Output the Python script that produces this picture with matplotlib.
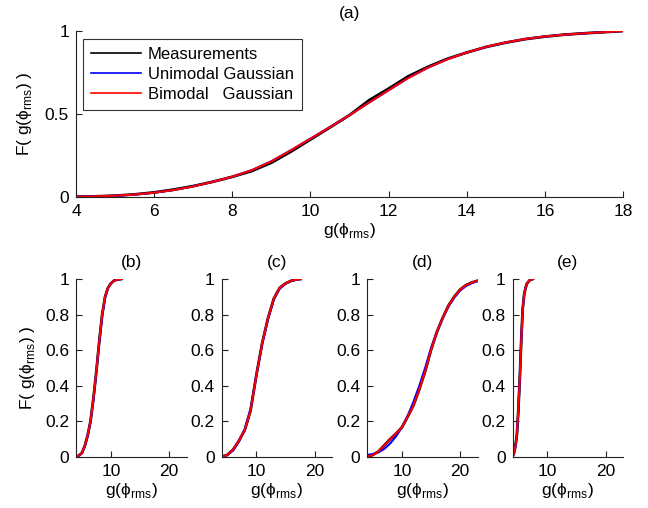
import matplotlib
matplotlib.use("Agg")
import matplotlib.pyplot as plt

plt.rcParams["font.family"] = ["Liberation Sans", "DejaVu Sans"]
plt.rcParams["mathtext.fontset"] = "custom"
plt.rcParams["mathtext.rm"] = "Liberation Sans"
plt.rcParams["font.size"] = 12.5

# ---------------- panel (a): all data ----------------
g_a = [4.0, 4.5, 5.0, 5.5, 6.0, 6.5, 7.0, 7.5, 8.0, 8.5, 9.0, 9.5, 10.0, 10.5,
       11.0, 11.5, 12.0, 12.5, 13.0, 13.5, 14.0, 14.5, 15.0, 15.5, 16.0, 16.5,
       17.0, 17.5, 18.0]
meas_a = [0.0, 0.002, 0.006, 0.014, 0.026, 0.043, 0.064, 0.090, 0.120, 0.155,
          0.205, 0.272, 0.345, 0.418, 0.492, 0.582, 0.652, 0.726, 0.783, 0.832,
          0.870, 0.904, 0.930, 0.951, 0.966, 0.978, 0.986, 0.993, 1.0]
uni_a = [0.0, 0.002, 0.006, 0.013, 0.024, 0.040, 0.063, 0.090, 0.120, 0.160,
         0.214, 0.280, 0.350, 0.420, 0.492, 0.568, 0.642, 0.716, 0.778, 0.829,
         0.870, 0.904, 0.930, 0.952, 0.967, 0.978, 0.986, 0.993, 1.0]
bi_a = [0.0, 0.002, 0.006, 0.013, 0.024, 0.040, 0.062, 0.090, 0.121, 0.160,
        0.213, 0.280, 0.350, 0.420, 0.492, 0.568, 0.643, 0.716, 0.778, 0.829,
        0.870, 0.905, 0.931, 0.952, 0.967, 0.978, 0.986, 0.993, 1.0]

# ---------------- panel (b) ----------------
g_b = [4.2, 5.0, 5.5, 6.0, 6.5, 7.0, 7.5, 8.0, 8.5, 9.0, 9.5, 10.0, 10.5, 11.0, 11.8]
meas_b = [0.0, 0.02, 0.06, 0.12, 0.20, 0.33, 0.48, 0.65, 0.80, 0.90, 0.95, 0.975, 0.99, 0.996, 1.0]
uni_b = [0.0, 0.02, 0.055, 0.115, 0.20, 0.32, 0.48, 0.64, 0.79, 0.895, 0.95, 0.976, 0.99, 0.997, 1.0]
bi_b = [0.0, 0.02, 0.06, 0.12, 0.20, 0.33, 0.48, 0.65, 0.80, 0.90, 0.95, 0.975, 0.99, 0.996, 1.0]

# ---------------- panel (c) ----------------
g_c = [4.0, 5.0, 6.0, 7.0, 8.0, 9.0, 10.0, 11.0, 12.0, 13.0, 14.0, 15.0, 16.0, 17.0, 17.6]
meas_c = [0.0, 0.01, 0.04, 0.09, 0.15, 0.26, 0.46, 0.64, 0.78, 0.89, 0.95, 0.975, 0.99, 0.998, 1.0]
uni_c = [0.0, 0.01, 0.035, 0.085, 0.155, 0.27, 0.46, 0.635, 0.775, 0.885, 0.945, 0.973, 0.99, 0.997, 1.0]
bi_c = [0.0, 0.01, 0.04, 0.09, 0.15, 0.26, 0.46, 0.64, 0.78, 0.89, 0.95, 0.975, 0.99, 0.998, 1.0]

# ---------------- panel (d) ----------------
g_d = [4.0, 5.0, 6.0, 7.0, 8.0, 9.0, 10.0, 11.0, 12.0, 13.0, 14.0, 15.0, 16.0,
       17.0, 18.0, 19.0, 20.0, 21.0, 22.0, 23.0]
meas_d = [0.0, 0.01, 0.03, 0.065, 0.10, 0.13, 0.165, 0.225, 0.29, 0.38, 0.48,
          0.60, 0.70, 0.78, 0.85, 0.90, 0.94, 0.965, 0.98, 0.99]
uni_d = [0.01, 0.015, 0.025, 0.045, 0.075, 0.115, 0.165, 0.23, 0.31, 0.40, 0.50,
         0.61, 0.70, 0.78, 0.845, 0.895, 0.935, 0.96, 0.977, 0.988]
bi_d = [0.0, 0.01, 0.03, 0.065, 0.10, 0.13, 0.165, 0.225, 0.29, 0.38, 0.48,
        0.60, 0.70, 0.78, 0.85, 0.90, 0.94, 0.965, 0.98, 0.99]

# ---------------- panel (e) ----------------
g_e = [4.0, 4.25, 4.5, 4.75, 5.0, 5.25, 5.5, 5.75, 6.0, 6.25, 6.5, 7.0, 7.5]
meas_e = [0.0, 0.02, 0.06, 0.12, 0.26, 0.44, 0.65, 0.83, 0.91, 0.95, 0.975, 0.995, 1.0]
uni_e = [0.0, 0.02, 0.055, 0.12, 0.25, 0.44, 0.655, 0.83, 0.915, 0.955, 0.977, 0.995, 1.0]
bi_e = [0.0, 0.02, 0.06, 0.12, 0.26, 0.44, 0.65, 0.83, 0.91, 0.95, 0.975, 0.995, 1.0]

series_labels = ["Measurements", "Unimodal Gaussian", "Bimodal   Gaussian"]
panel_titles = ["(b)", "(c)", "(d)", "(e)"]
xlabel = "g(\u03d5$_{\\mathregular{rms}}$)"
ylabel = "F( g(\u03d5$_{\\mathregular{rms}}$) )"

FS = 12.5
W, H = 648, 508
fig = plt.figure(figsize=(W / 100, H / 100), dpi=100)


def px_axes(left, top, right, bottom):
    return fig.add_axes([left / W, 1 - bottom / H, (right - left) / W, (bottom - top) / H])


def style(ax):
    for s in ("top", "right"):
        ax.spines[s].set_visible(False)
    for s in ("left", "bottom"):
        ax.spines[s].set_linewidth(0.8)
        ax.spines[s].set_color("#222222")
    ax.tick_params(direction="in", length=4, width=0.8, color="#222222",
                   labelsize=FS, pad=5)


def draw(ax, g, m, u, b):
    ax.plot(g, m, color="black", lw=2.0, label=series_labels[0])
    ax.plot(g, u, color="blue", lw=1.5, label=series_labels[1])
    ax.plot(g, b, color="red", lw=1.5, label=series_labels[2])


# top panel
ax = px_axes(76, 31, 623, 196.7)
draw(ax, g_a, meas_a, uni_a, bi_a)
ax.set_xlim(4, 18)
ax.set_ylim(0, 1)
ax.set_xticks(range(4, 19, 2))
ax.set_yticks([0, 0.5, 1])
ax.set_yticklabels(["0", "0.5", "1"])
style(ax)
ax.set_title("(a)", fontsize=FS, pad=9)
ax.set_xlabel(xlabel, fontsize=FS, labelpad=2)
ax.set_ylabel(ylabel, fontsize=FS, labelpad=8)
leg = ax.legend(loc="upper left", bbox_to_anchor=(7 / 547, 1 - 8 / 165.7), fontsize=12,
                frameon=True, fancybox=False, edgecolor="black", handlelength=3.0,
                handletextpad=0.4, borderpad=0.5, labelspacing=0.28,
                borderaxespad=0)
leg.get_frame().set_linewidth(0.8)
for line in leg.get_lines():
    line.set_linewidth(1.2)

# bottom panels
lefts = [76, 221.5, 367, 512.5]
data = [(g_b, meas_b, uni_b, bi_b), (g_c, meas_c, uni_c, bi_c),
        (g_d, meas_d, uni_d, bi_d), (g_e, meas_e, uni_e, bi_e)]
for i, (l, d) in enumerate(zip(lefts, data)):
    ax = px_axes(l, 279, l + 110.5, 456.7)
    draw(ax, *d)
    ax.set_xlim(4, 23)
    ax.set_ylim(0, 1)
    ax.set_xticks([10, 20])
    ax.set_yticks([0, 0.2, 0.4, 0.6, 0.8, 1.0])
    ax.set_yticklabels(["0", "0.2", "0.4", "0.6", "0.8", "1"])
    style(ax)
    ax.set_title(panel_titles[i], fontsize=FS, pad=9)
    ax.set_xlabel(xlabel, fontsize=FS, labelpad=2)
    if i == 0:
        ax.set_ylabel(ylabel, fontsize=FS, labelpad=6)

fig.savefig("out.png", dpi=100)
